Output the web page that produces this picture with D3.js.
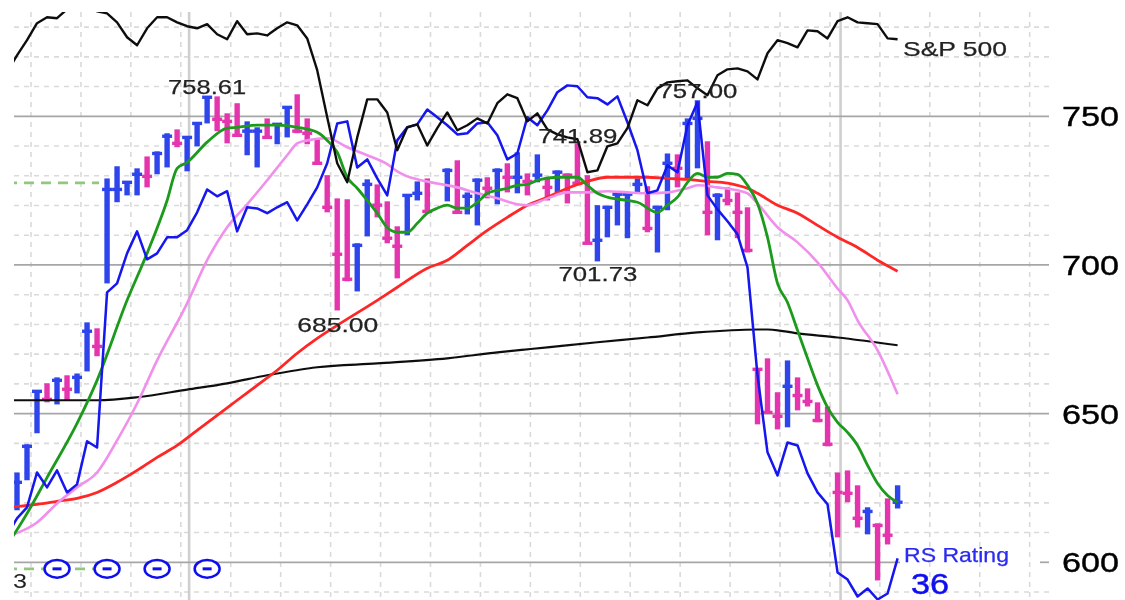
<!DOCTYPE html>
<html><head><meta charset="utf-8">
<script src="https://cdn.jsdelivr.net/npm/d3@7/dist/d3.min.js"></script>
<style>html,body{margin:0;padding:0;background:#fff}svg{display:block}text{font-family:"Liberation Sans",Arial,sans-serif}</style>
</head><body><div id="c"></div>
<script>
const highs=[630.2,639.7,657.5,660.2,662.2,662.9,663.5,680.7,678.7,729.1,733.2,728.1,732.5,736.5,738.2,744.3,745.6,743.3,748.0,756.7,756.7,751.0,754.4,748.3,746.3,749.3,747.6,753.4,757.4,749.3,742.6,730.2,722.4,722.1,707.3,728.8,727.1,721.4,713.0,723.8,728.1,729.1,null,732.5,735.2,724.4,729.1,729.5,732.5,734.2,737.9,730.8,737.2,729.5,731.8,730.8,740.9,730.2,720.1,719.7,724.1,724.1,729.1,726.5,719.7,737.5,737.2,749.3,755.4,741.6,724.1,726.1,724.4,719.4,665.2,668.6,657.2,667.9,662.2,658.5,653.8,652.4,630.2,630.9,625.9,618.5,613.1,621.5,625.9];
const lows=[617.5,627.6,643.4,653.8,653.1,654.5,656.8,664.2,669.3,693.8,721.1,723.4,723.4,726.1,730.5,732.8,739.6,731.5,739.9,747.6,745.0,740.9,743.3,736.9,732.8,742.6,740.6,742.9,744.3,740.6,733.9,717.7,684.7,694.5,691.1,709.6,716.0,707.3,695.5,710.0,721.7,717.7,null,721.4,717.4,717.0,713.3,722.4,720.4,724.4,724.1,723.4,727.8,721.7,724.4,720.7,726.8,707.3,701.2,709.3,713.3,709.0,724.1,711.0,704.2,718.4,726.1,729.1,732.5,710.0,708.3,720.1,709.0,704.2,646.4,650.1,644.7,645.4,651.1,652.4,647.1,639.0,608.4,620.2,611.7,609.4,593.9,606.0,618.1];
const closes=[626.9,639.0,657.5,654.8,661.2,658.2,662.2,677.7,672.6,725.4,725.4,727.8,730.5,729.8,737.5,743.3,740.9,742.9,747.6,756.4,749.0,748.3,743.6,745.0,745.0,742.9,747.3,753.0,745.0,744.3,734.2,719.4,703.6,695.2,706.6,727.1,720.1,709.0,706.3,723.4,724.1,718.0,null,731.8,717.7,723.1,728.5,725.8,731.8,729.5,729.5,728.1,730.2,726.1,731.2,730.2,727.5,707.3,708.3,719.4,723.8,723.8,727.1,712.3,719.4,734.2,732.5,747.6,749.3,717.7,723.4,721.7,717.7,704.9,664.9,650.4,649.1,659.2,656.1,654.1,647.7,639.7,623.5,623.2,614.8,617.1,612.4,609.1,620.2];

const spx=[764.8,770.5,775.6,781.3,783.3,783.0,786.0,787.3,787.3,785.3,784.6,781.6,776.6,773.9,779.6,783.3,783.3,781.6,780.3,779.6,781.0,777.6,775.9,782.0,777.6,777.9,777.2,779.6,781.6,780.6,776.2,765.5,749.7,734.2,727.8,742.9,755.7,755.7,751.3,738.6,746.3,747.3,740.2,746.0,751.3,745.3,747.0,749.3,747.6,754.4,757.4,756.1,748.3,751.0,745.6,743.9,742.9,742.3,731.2,731.8,739.9,740.9,746.0,755.4,753.7,759.4,761.4,761.8,762.1,759.4,757.1,763.8,765.8,766.1,765.1,762.4,771.2,775.6,774.6,773.2,778.9,778.6,776.2,782.0,783.3,781.6,781.3,781.0,776.2,775.9];
const rsLine=[609.0,614.8,618.5,630.2,625.2,630.9,623.5,626.2,640.7,638.6,690.8,693.8,703.9,711.3,701.9,703.9,709.3,709.3,711.7,717.7,725.4,723.1,724.8,711.3,719.4,719.0,717.4,719.4,721.1,715.0,720.4,726.1,734.2,747.6,748.3,732.8,735.5,729.1,723.4,741.9,746.3,747.3,752.3,749.7,747.0,743.9,744.3,747.6,748.0,743.6,735.5,737.5,749.7,747.0,752.0,758.1,760.4,760.1,756.4,756.1,754.0,756.7,748.0,738.6,724.1,725.1,733.5,731.2,747.0,754.7,723.4,718.7,714.7,710.3,699.2,662.9,637.0,629.2,640.3,639.3,629.9,623.5,619.5,596.6,594.2,588.5,591.2,587.5,589.5,601.3];

const ma1Days=[-1,1,3,6,8,11,13,15,16,17,19,21,22,24,26,28,30,31,32,33,34,35,36,37,38,39,40,41,42,43,44,45,46,47,48,49,50,51,52,54,56,57,58,59,61,62,64,65,66,67,68,69,70,71,72,73,74,75,76,77,78,79,80,81,82,83,84,85,86,87,88];
const ma1=[605.7,616.4,628.5,646.7,661.2,688.1,703.9,721.7,732.5,734.5,741.3,746.0,746.3,747.0,747.0,746.3,744.6,741.9,737.9,729.5,725.8,721.7,717.4,712.6,711.0,711.0,714.0,717.4,719.1,720.1,719.1,719.1,721.1,724.1,725.1,725.8,726.8,727.1,728.5,729.5,729.5,726.8,724.1,722.8,721.7,721.1,717.7,720.1,722.8,727.8,730.8,729.5,729.5,730.8,730.5,726.8,720.7,709.3,693.8,687.4,678.0,668.6,659.5,652.1,647.1,643.7,639.3,632.6,626.5,622.5,620.2];
const ma2Days=[-1,2,4,6,8,10,12,14,17,19,21,23,25,27,28,29,31,33,35,37,38,39,40,42,44,46,48,50,51,53,55,57,59,61,63,65,67,68,70,72,73,74,76,78,80,82,83,84,86,88];
const ma2=[608.7,613.4,619.8,625.2,630.2,641.0,653.4,667.9,687.1,701.6,712.7,720.4,728.5,736.9,740.9,741.9,742.6,739.6,736.9,733.9,731.5,729.8,728.8,727.4,726.1,724.1,722.4,720.4,720.1,722.4,724.4,724.4,724.8,724.4,724.1,724.4,725.8,726.8,726.1,725.1,724.1,720.7,712.7,707.6,700.9,692.1,688.1,681.4,671.3,656.5];
const ma3Days=[-1,2,4,6,8,10,12,14,16,18,20,22,24,26,28,30,32,36,38,41,43,45,47,49,51,53,55,57,59,61,63,65,67,69,71,72,73,74,76,78,80,82,84,86,88];
const ma3=[618.5,619.5,620.5,621.5,623.5,626.9,630.9,635.3,639.3,644.4,649.4,654.5,659.5,664.6,670.3,675.3,679.7,688.1,692.5,698.9,701.6,706.6,711.6,716.0,720.1,722.8,725.8,728.1,729.5,729.5,729.5,729.1,728.8,728.1,727.5,726.8,725.8,724.1,720.1,717.4,713.3,709.3,705.9,701.6,697.9];
const ma4Days=[-1,8,12,17,21,25,30,36,43,48,53,58,63,68,74,75,78,82,88];
const ma4=[654.5,654.5,655.5,658.1,660.2,662.9,665.6,666.9,668.6,670.6,672.3,674.0,675.6,677.3,678.3,678.3,677.0,675.6,673.0];

const yTicks=[750,700,650,600];
const minorLevels=[780,770,760,740,730,720,710,690,680,670,660,640,630,620,610,590];
const priceNotes=[{t:"758.61",d:19.0,v:757.4,w:78},{t:"685.00",d:32.05,v:677.3,w:81},{t:"741.89",d:56.05,v:741,w:79},{t:"701.73",d:58.05,v:694.5,w:79},{t:"757.00",d:68.05,v:756.05,w:79}];
const eventDays=[4,9,14,19];
const eventLevel=597.8;
const greenDash=[{v:727.6,a:-1,b:8.2},{v:597.8,a:-1,b:8}];

const W=1125,H=600;
const x=d3.scaleLinear().domain([0,88]).range([17,897.6]);
const y=d3.scaleLinear().domain([750,600]).range([116.3,562.3]);
const svg=d3.select("#c").append("svg").attr("width",W).attr("height",H);
const defs=svg.append("defs");
defs.append("filter").attr("id","soft")
  .attr("filterUnits","userSpaceOnUse").attr("x",0).attr("y",0).attr("width",W).attr("height",H)
  .append("feGaussianBlur").attr("stdDeviation",0.7);
defs.append("clipPath").attr("id","plot").append("rect").attr("x",14).attr("y",12).attr("width",1040).attr("height",590);
const root=svg.append("g").attr("filter","url(#soft)");
const g=root.append("g").attr("clip-path","url(#plot)");

// grid
g.selectAll("line.minor").data(minorLevels).join("line").attr("class","minor")
  .attr("x1",14).attr("x2",1049).attr("y1",d=>y(d)).attr("y2",d=>y(d))
  .attr("stroke","#dadada").attr("stroke-width",1.6).attr("stroke-dasharray","5,5");
g.selectAll("line.vg").data(d3.range(1.4,102,4.99)).join("line").attr("class","vg")
  .attr("x1",d=>x(d)).attr("x2",d=>x(d)).attr("y1",12).attr("y2",600)
  .attr("stroke","#dadada").attr("stroke-width",1.6).attr("stroke-dasharray","5,5");
g.selectAll("line.vs").data([17.2,82.3]).join("line").attr("class","vs")
  .attr("x1",d=>x(d)).attr("x2",d=>x(d)).attr("y1",12).attr("y2",600)
  .attr("stroke","#cfcfcf").attr("stroke-width",2.6);
g.selectAll("line.maj").data(yTicks).join("line").attr("class","maj")
  .attr("x1",14).attr("x2",d=>d===600?900:1049).attr("y1",d=>y(d)).attr("y2",d=>y(d))
  .attr("stroke","#a6a6a6").attr("stroke-width",1.7);
g.append("line").attr("x1",1040).attr("x2",1049).attr("y1",y(600)).attr("y2",y(600)).attr("stroke","#a6a6a6").attr("stroke-width",1.7);

// green dashes
g.selectAll("line.gd").data(greenDash).join("line").attr("class","gd")
  .attr("x1",d=>x(d.a)).attr("x2",d=>x(d.b)).attr("y1",d=>y(d.v)).attr("y2",d=>y(d.v))
  .attr("stroke","#8fc87e").attr("stroke-width",2.6).attr("stroke-dasharray","10,7");

// price bars
const bars=closes.map((c,i)=>({i,c,h:highs[i],l:lows[i]})).filter(d=>d.c!==null);
bars.forEach((d,k)=>{d.up=k===0||d.c>=bars[k-1].c;});
const col=d=>d.up?"#2f45ec":"#e436ae";
g.selectAll("line.hl").data(bars).join("line").attr("class","hl")
  .attr("x1",d=>x(d.i)).attr("x2",d=>x(d.i)).attr("y1",d=>y(d.h)).attr("y2",d=>y(d.l))
  .attr("stroke",col).attr("stroke-width",5.4);
g.selectAll("line.cl").data(bars).join("line").attr("class","cl")
  .attr("x1",d=>x(d.i)-5).attr("x2",d=>x(d.i)+5).attr("y1",d=>y(d.c)).attr("y2",d=>y(d.c))
  .attr("stroke",col).attr("stroke-width",3.4);

// lines
const path=(days,vals,stroke,w,curve)=>g.append("path")
  .datum(vals).attr("fill","none").attr("stroke",stroke).attr("stroke-width",w).attr("stroke-linejoin","round")
  .attr("d",d3.line().curve(curve).x((d,i)=>x(days?days[i]:i-1)).y(d=>y(d)));
path(ma4Days,ma4,"#111",2.2,d3.curveMonotoneX);
path(ma3Days,ma3,"#ff2626",2.8,d3.curveMonotoneX);
path(ma2Days,ma2,"#f090ec",2.6,d3.curveMonotoneX);
path(ma1Days,ma1,"#1f9a1f",2.8,d3.curveMonotoneX);
path(null,rsLine,"#1414ee",2.5,d3.curveLinear);
path(null,spx,"#111",2.4,d3.curveLinear);

// event markers
const ev=g.selectAll("g.ev").data(eventDays).join("g").attr("class","ev")
  .attr("transform",d=>`translate(${x(d)},${y(eventLevel)})`);
ev.append("ellipse").attr("rx",12.5).attr("ry",8.8).attr("fill","#fff").attr("stroke","#1010f0").attr("stroke-width",2.5);
ev.append("line").attr("x1",-4.5).attr("x2",4.5).attr("stroke","#1010f0").attr("stroke-width",3);

// text
const fit=(sel,len)=>sel.attr("textLength",len).attr("lengthAdjust","spacingAndGlyphs");
root.selectAll("text.note").data(priceNotes).join("text").attr("class","note")
  .attr("x",d=>x(d.d)).attr("y",d=>y(d.v)).attr("text-anchor","middle")
  .attr("font-size",21).attr("fill","#222").attr("stroke","#222").attr("stroke-width",0.25).text(d=>d.t)
  .attr("textLength",d=>d.w).attr("lengthAdjust","spacingAndGlyphs");
fit(root.append("text").attr("x",903).attr("y",y(770.3)).attr("font-size",21).attr("fill","#222").attr("stroke","#222").attr("stroke-width",0.25).text("S&P 500"),104);
fit(root.append("text").attr("x",904).attr("y",562).attr("font-size",21).attr("fill","#2a2af0").attr("stroke","#2a2af0").attr("stroke-width",0.25).text("RS Rating"),105);
fit(root.append("text").attr("x",911).attr("y",594).attr("font-size",29).attr("fill","#1010f0").attr("stroke","#1010f0").attr("stroke-width",0.5).text("36"),38);
g.append("text").attr("x",13).attr("y",588).attr("font-size",21).attr("fill","#222").text("3").attr("textLength",14).attr("lengthAdjust","spacingAndGlyphs");

// value axis
const axis=d3.axisRight(y).tickValues(yTicks).tickSize(0).tickPadding(0);
const ax=root.append("g").attr("transform","translate(1062,0)").call(axis);
ax.select(".domain").remove();
ax.selectAll("text").attr("font-size",27).attr("fill","#000").attr("stroke","#000").attr("stroke-width",0.4).attr("dy","0.35em")
  .attr("textLength",57).attr("lengthAdjust","spacingAndGlyphs")
  .style("font-family",'"Liberation Sans",Arial,sans-serif');
</script></body></html>
